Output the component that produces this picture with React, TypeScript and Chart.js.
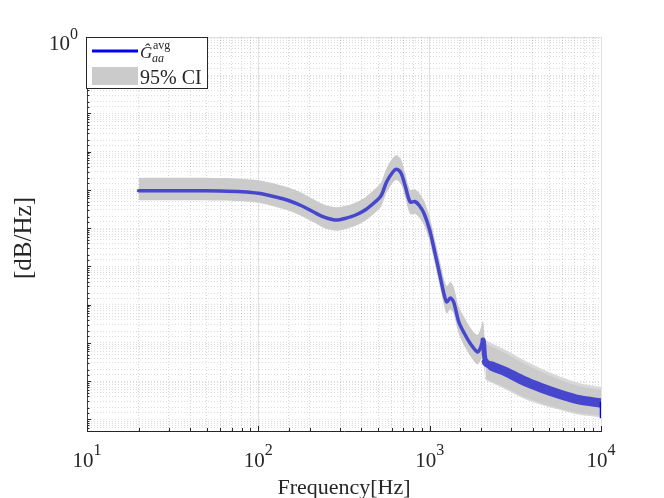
import React, { useEffect, useRef } from 'react';
import { Chart, registerables } from 'chart.js';

Chart.register(...registerables);

// frequencies [Hz] and the averaged spectrum
const freq = [
  20, 40, 60, 80, 100, 130, 150, 180, 210, 240,
  270, 290, 320, 370, 420, 480, 520, 560, 610, 640,
  680, 720, 770, 820, 870, 930, 1000, 1080, 1140, 1220,
  1260, 1320, 1380, 1480, 1600, 1750, 1900, 1980, 2050, 2120,
  2300, 2800, 3500, 4500, 5800, 7500, 10000,
];
const gAvg = [
  9.6e-5, 9.6e-5, 9.4e-5, 9.0e-5, 8.2e-5, 6.37e-5, 5.31e-5, 3.82e-5, 2.66e-5, 1.97e-5,
  1.69e-5, 1.64e-5, 1.8e-5, 2.22e-5, 3.0e-5, 4.85e-5, 6.97e-5, 1.62e-4, 2.96e-4, 3.48e-4,
  2.78e-4, 1.27e-4, 4.85e-5, 5.0e-5, 3.94e-5, 2.36e-5, 9.0e-6, 2.0e-6, 6.76e-7, 1.69e-7,
  1.18e-7, 1.5e-7, 1.18e-7, 3.54e-8, 1.72e-8, 8.87e-9, 5.82e-9, 7.4e-9, 1.2e-8, 3.18e-9,
  2.51e-9, 1.75e-9, 1.05e-9, 6.67e-10, 4.51e-10, 3.24e-10, 2.7e-10,
];
const ciUpper = [
  2.1e-4, 2.1e-4, 2.06e-4, 1.98e-4, 1.79e-4, 1.39e-4, 1.16e-4, 8.36e-5, 5.69e-5, 4.21e-5,
  3.62e-5, 3.52e-5, 3.85e-5, 4.74e-5, 6.41e-5, 1.06e-4, 1.56e-4, 3.71e-4, 6.93e-4, 8.15e-4,
  6.37e-4, 2.72e-4, 1.01e-4, 1.04e-4, 8.22e-5, 5.05e-5, 1.97e-5, 4.48e-6, 1.55e-6, 4.26e-7,
  3.1e-7, 3.94e-7, 2.96e-7, 8.89e-8, 4.52e-8, 2.33e-8, 1.64e-8, 2.34e-8, 3.78e-8, 1.13e-8,
  8.89e-9, 5.78e-9, 3.31e-9, 1.92e-9, 1.19e-9, 8.13e-10, 6.47e-10,
];
const ciLower = [
  5.4e-5, 5.4e-5, 5.3e-5, 5.08e-5, 4.61e-5, 3.5e-5, 2.92e-5, 2.05e-5, 1.43e-5, 1.03e-5,
  8.89e-6, 8.63e-6, 9.44e-6, 1.16e-5, 1.57e-5, 2.55e-5, 3.66e-5, 8.49e-5, 1.55e-4, 1.82e-4,
  1.43e-4, 6.24e-5, 2.32e-5, 2.39e-5, 1.88e-5, 1.16e-5, 4.51e-6, 1.0e-6, 3.39e-7, 8.49e-8,
  5.92e-8, 7.52e-8, 5.92e-8, 1.69e-8, 8.04e-9, 4.15e-9, 2.72e-9, 3.46e-9, 5.35e-9, 1.27e-9,
  9.98e-10, 6.64e-10, 3.98e-10, 2.65e-10, 1.92e-10, 1.45e-10, 1.26e-10,
];
// the short vertical stroke at the right end of the curve
const endFreq = [10000, 10000];
const endValue = [2.9e-10, 1.07e-10];

const xTickValues = [10, 100, 1000, 10000];
const xTickExps = ['1', '2', '3', '4'];
const yTickValues = [1];
const yTickExps = ['0'];
const xTitle = 'Frequency[Hz]';
const yTitle = '[dB/Hz]';
const ciLabel = '95% CI';

const SERIF = '"Liberation Serif", "Times New Roman", serif';
const AXIS = '#262626';

const pts = (xs: number[], ys: number[]) => xs.map((x, i) => ({ x, y: ys[i] }));

// the curve gets visibly thicker where it starts to ripple above ~2 kHz
const lineWidthAt = (f: number) =>
  f >= 8000 ? 8 : f >= 2300 ? 9.5 : f >= 2120 ? 7.5 : f >= 2050 ? 5 : 3.5;

const isDecade = (v: number) => Math.abs(Math.log10(v) - Math.round(Math.log10(v))) < 1e-6;

const decor = {
  id: 'decor',
  beforeDatasetsDraw(chart: any) {
    const { ctx, chartArea: a, scales } = chart;
    ctx.save();
    ctx.strokeStyle = AXIS;
    ctx.lineWidth = 1;
    ctx.beginPath();
    scales.x.ticks.forEach((t: any) => {
      const px = Math.round(scales.x.getPixelForValue(t.value)) + 0.5;
      const len = isDecade(t.value) ? 5 : 3;
      ctx.moveTo(px, a.bottom);
      ctx.lineTo(px, a.bottom - len);
    });
    scales.y.ticks.forEach((t: any) => {
      const py = Math.round(scales.y.getPixelForValue(t.value)) + 0.5;
      const len = isDecade(t.value) ? 4 : 2.5;
      ctx.moveTo(a.left, py);
      ctx.lineTo(a.left + len, py);
    });
    ctx.stroke();
    ctx.restore();
  },
  afterDraw(chart: any) {
    const { ctx, chartArea: a, scales } = chart;
    ctx.save();
    ctx.fillStyle = AXIS;
    ctx.textBaseline = 'alphabetic';
    ctx.textAlign = 'left';

    // x tick labels 10^k
    xTickValues.forEach((v, i) => {
      const px = scales.x.getPixelForValue(v);
      ctx.font = `21px ${SERIF}`;
      const wBase = ctx.measureText('10').width;
      ctx.font = `16px ${SERIF}`;
      const wExp = ctx.measureText(xTickExps[i]).width;
      const x0 = px - (wBase + wExp) / 2;
      ctx.font = `21px ${SERIF}`;
      ctx.fillText('10', x0, 467);
      ctx.font = `16px ${SERIF}`;
      ctx.fillText(xTickExps[i], x0 + wBase, 455);
    });

    // y tick labels
    yTickValues.forEach((v, i) => {
      const py = scales.y.getPixelForValue(v);
      ctx.font = `16px ${SERIF}`;
      const wExp = ctx.measureText(yTickExps[i]).width;
      ctx.font = `21px ${SERIF}`;
      const wBase = ctx.measureText('10').width;
      const x1 = a.left - 9;
      ctx.fillText('10', x1 - wExp - wBase, py + 13);
      ctx.font = `16px ${SERIF}`;
      ctx.fillText(yTickExps[i], x1 - wExp, py + 2);
    });

    // axis titles
    ctx.textAlign = 'center';
    ctx.font = `22px ${SERIF}`;
    ctx.fillText(xTitle, (a.left + a.right) / 2, 494);
    ctx.save();
    ctx.translate(31, (a.top + a.bottom) / 2 + 4);
    ctx.rotate(-Math.PI / 2);
    ctx.font = `25px ${SERIF}`;
    ctx.fillText(yTitle, 0, 0);
    ctx.restore();

    // legend
    const L = a.left - 1;
    const T = a.top;
    ctx.fillStyle = '#ffffff';
    ctx.fillRect(L, T, 121, 51);
    ctx.strokeStyle = AXIS;
    ctx.lineWidth = 1;
    ctx.strokeRect(L + 0.5, T + 0.5, 121, 51);
    ctx.strokeStyle = '#0000ff';
    ctx.lineWidth = 3;
    ctx.beginPath();
    ctx.moveTo(L + 6, T + 14);
    ctx.lineTo(L + 52, T + 14);
    ctx.stroke();
    ctx.fillStyle = '#cbcbcb';
    ctx.fillRect(L + 6, T + 30, 46, 18);

    ctx.fillStyle = AXIS;
    ctx.textAlign = 'left';
    ctx.font = `italic 17px ${SERIF}`;
    ctx.fillText('\u011C', L + 54, T + 21);
    ctx.font = `12px ${SERIF}`;
    ctx.fillText('avg', L + 67, T + 12);
    ctx.font = `italic 12px ${SERIF}`;
    ctx.fillText('aa', L + 66, T + 25);
    ctx.font = `20px ${SERIF}`;
    ctx.fillText(ciLabel, L + 54, T + 47);
    ctx.restore();
  },
};

export default function App() {
  const canvasRef = useRef<HTMLCanvasElement>(null);

  useEffect(() => {
    if (!canvasRef.current) return;
    const chart = new Chart(canvasRef.current, {
      type: 'line',
      data: {
        datasets: [
          {
            label: 'end',
            data: pts(endFreq, endValue),
            borderColor: '#0000ff',
            borderWidth: 2.5,
            pointRadius: 0,
            fill: false,
          },
          {
            label: 'G_aa avg',
            data: pts(freq, gAvg),
            borderColor: '#4747cd',
            borderWidth: 3.5,
            borderCapStyle: 'round',
            borderJoinStyle: 'round',
            pointRadius: 0,
            tension: 0.3,
            fill: false,
            clip: 0,
            segment: { borderWidth: (c: any) => lineWidthAt(c.p0.parsed.x) },
          },
          {
            label: 'ci upper',
            data: pts(freq, ciUpper),
            borderColor: 'rgba(0,0,0,0)',
            borderWidth: 3,
            backgroundColor: '#cbcbcb',
            pointRadius: 0,
            tension: 0.3,
            fill: '+1',
            clip: 0,
            segment: { borderColor: (c: any) => (c.p0.parsed.x >= 2100 ? '#d8d8d8' : 'rgba(0,0,0,0)') },
          },
          {
            label: 'ci lower',
            data: pts(freq, ciLower),
            borderColor: 'rgba(0,0,0,0)',
            borderWidth: 3,
            pointRadius: 0,
            tension: 0.3,
            fill: false,
            clip: 0,
            segment: { borderColor: (c: any) => (c.p0.parsed.x >= 2100 ? '#d8d8d8' : 'rgba(0,0,0,0)') },
          },
        ],
      },
      options: {
        animation: false,
        responsive: true,
        maintainAspectRatio: false,
        layout: { padding: { left: 87, top: 37, right: 63, bottom: 67 } },
        plugins: { legend: { display: false }, tooltip: { enabled: false } },
        scales: {
          x: {
            type: 'logarithmic',
            min: 10,
            max: 10000,
            ticks: { display: false },
            grid: {
              drawTicks: false,
              color: (c: any) => (c.tick && isDecade(c.tick.value) ? 'rgba(0,0,0,0.12)' : 'rgba(0,0,0,0.15)'),
            },
            border: {
              display: true,
              color: AXIS,
              width: 1,
              dash: (c: any) => (c.tick && !isDecade(c.tick.value) ? [1, 2] : []),
            },
          },
          y: {
            type: 'logarithmic',
            min: 5e-11,
            max: 1,
            ticks: { display: false },
            grid: {
              drawTicks: false,
              color: (c: any) => (c.tick && c.tick.value >= 0.999 ? 'rgba(0,0,0,0.12)' : 'rgba(0,0,0,0.13)'),
            },
            border: {
              display: true,
              color: '#404040',
              width: 1,
              dash: (c: any) => (c.tick && c.tick.value < 0.999 ? [1, 2] : []),
            },
          },
        },
      },
      plugins: [decor],
    } as any);
    return () => chart.destroy();
  }, []);

  return (
    <div style={{ position: 'fixed', left: 0, top: 0, width: 664, height: 498, background: '#ffffff' }}>
      <canvas ref={canvasRef} />
    </div>
  );
}
